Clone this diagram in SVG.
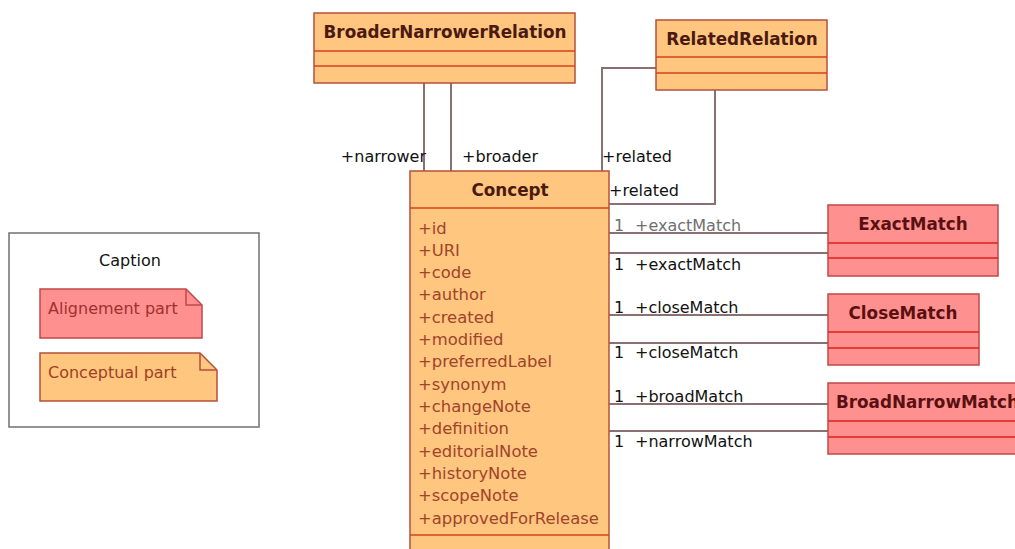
<svg xmlns="http://www.w3.org/2000/svg" width="1015" height="549" viewBox="0 0 1015 549">
<style>
.txt{font-family:"DejaVu Sans",Verdana,sans-serif}
.title{font-family:"DejaVu Sans",Verdana,sans-serif;font-weight:bold;font-size:16.8px;fill:#4a1a10;text-anchor:middle}
.attr{font-family:"DejaVu Sans",Verdana,sans-serif;font-size:16.4px;fill:#a0442a}
.lbl{font-family:"DejaVu Sans",Verdana,sans-serif;font-size:16px;fill:#111}
.conc{fill:#ffc680;stroke:#b5503a;stroke-width:1.5}
.align{fill:#ff9090;stroke:#c04848;stroke-width:1.5}
.sepO{stroke:#d84020;stroke-width:1.5}
.sepA{stroke:#e02020;stroke-width:1.5}
.conn{fill:none;stroke:#8a7070;stroke-width:2}
</style>
<rect width="1015" height="549" fill="#ffffff"/>

<g id="connectors">
  <line class="conn" x1="424" y1="83" x2="424" y2="171"/>
  <line class="conn" x1="451" y1="83" x2="451" y2="171"/>
  <polyline class="conn" points="656,68 602,68 602,171"/>
  <polyline class="conn" points="715,90 715,204 609,204"/>
  <line class="conn" x1="609" y1="233" x2="828" y2="233"/>
  <line class="conn" x1="609" y1="253" x2="828" y2="253"/>
  <line class="conn" x1="609" y1="315" x2="828" y2="315"/>
  <line class="conn" x1="609" y1="343" x2="828" y2="343"/>
  <line class="conn" x1="609" y1="404" x2="828" y2="404"/>
  <line class="conn" x1="609" y1="431" x2="828" y2="431"/>
  <text class="lbl" x="426" y="162" text-anchor="end">+narrower</text>
  <text class="lbl" x="462" y="162">+broader</text>
  <text class="lbl" x="602" y="162">+related</text>
  <text class="lbl" x="609" y="196">+related</text>
  <text class="lbl" y="231" style="fill:#707070"><tspan x="614">1</tspan><tspan x="635">+exactMatch</tspan></text>
  <text class="lbl" y="270"><tspan x="614">1</tspan><tspan x="635">+exactMatch</tspan></text>
  <text class="lbl" y="313"><tspan x="614">1</tspan><tspan x="635">+closeMatch</tspan></text>
  <text class="lbl" y="358"><tspan x="614">1</tspan><tspan x="635">+closeMatch</tspan></text>
  <text class="lbl" y="402"><tspan x="614">1</tspan><tspan x="635">+broadMatch</tspan></text>
  <text class="lbl" y="447"><tspan x="614">1</tspan><tspan x="635">+narrowMatch</tspan></text>
</g>

<g id="BroaderNarrowerRelation">
  <rect class="conc" x="314" y="13" width="261" height="70"/>
  <line class="sepO" x1="314" y1="51" x2="575" y2="51"/>
  <line class="sepO" x1="314" y1="66" x2="575" y2="66"/>
  <text class="title" x="445" y="38">BroaderNarrowerRelation</text>
</g>

<g id="RelatedRelation">
  <rect class="conc" x="656" y="20" width="171" height="70"/>
  <line class="sepO" x1="656" y1="57" x2="827" y2="57"/>
  <line class="sepO" x1="656" y1="73" x2="827" y2="73"/>
  <text class="title" x="742" y="45">RelatedRelation</text>
</g>

<g id="Concept">
  <rect class="conc" x="410" y="171" width="199" height="395"/>
  <line class="sepO" x1="410" y1="208" x2="609" y2="208"/>
  <line class="sepO" x1="410" y1="535" x2="609" y2="535"/>
  <text class="title" x="510" y="196">Concept</text>
  <text class="attr" x="418" y="234">+id</text>
  <text class="attr" x="418" y="256">+URI</text>
  <text class="attr" x="418" y="278">+code</text>
  <text class="attr" x="418" y="300">+author</text>
  <text class="attr" x="418" y="323">+created</text>
  <text class="attr" x="418" y="345">+modified</text>
  <text class="attr" x="418" y="367">+preferredLabel</text>
  <text class="attr" x="418" y="390">+synonym</text>
  <text class="attr" x="418" y="412">+changeNote</text>
  <text class="attr" x="418" y="434">+definition</text>
  <text class="attr" x="418" y="457">+editorialNote</text>
  <text class="attr" x="418" y="479">+historyNote</text>
  <text class="attr" x="418" y="501">+scopeNote</text>
  <text class="attr" x="418" y="524">+approvedForRelease</text>
</g>

<g id="ExactMatch">
  <rect class="align" x="828" y="205" width="170" height="71"/>
  <line class="sepA" x1="828" y1="243" x2="998" y2="243"/>
  <line class="sepA" x1="828" y1="258" x2="998" y2="258"/>
  <text class="title" x="913" y="230" style="fill:#5a1010">ExactMatch</text>
</g>

<g id="CloseMatch">
  <rect class="align" x="828" y="294" width="151" height="71"/>
  <line class="sepA" x1="828" y1="332" x2="979" y2="332"/>
  <line class="sepA" x1="828" y1="348" x2="979" y2="348"/>
  <text class="title" x="903" y="319" style="fill:#5a1010">CloseMatch</text>
</g>

<g id="BroadNarrowMatch">
  <rect class="align" x="828" y="383" width="200" height="71"/>
  <line class="sepA" x1="828" y1="421" x2="1028" y2="421"/>
  <line class="sepA" x1="828" y1="437" x2="1028" y2="437"/>
  <text class="title" x="836" y="408" style="fill:#5a1010;text-anchor:start">BroadNarrowMatch</text>
</g>

<g id="Caption">
  <rect x="9" y="233" width="250" height="194" fill="#ffffff" stroke="#707070" stroke-width="1.5"/>
  <text class="txt" x="130" y="266" font-size="16" fill="#111" text-anchor="middle">Caption</text>
  <g id="note-alignement">
    <path d="M40,289 H186 L202,305 V338 H40 Z" fill="#ff9090" stroke="#c04848" stroke-width="1.5"/>
    <path d="M186,289 V305 H202" fill="none" stroke="#c04848" stroke-width="1.5"/>
    <text class="txt" x="48" y="314" font-size="16" fill="#a03030">Alignement part</text>
  </g>
  <g id="note-conceptual">
    <path d="M40,353 H200 L217,370 V401 H40 Z" fill="#ffc680" stroke="#b5503a" stroke-width="1.5"/>
    <path d="M200,353 V370 H217" fill="none" stroke="#b5503a" stroke-width="1.5"/>
    <text class="txt" x="48" y="378" font-size="16" fill="#a04020">Conceptual part</text>
  </g>
</g>
</svg>
